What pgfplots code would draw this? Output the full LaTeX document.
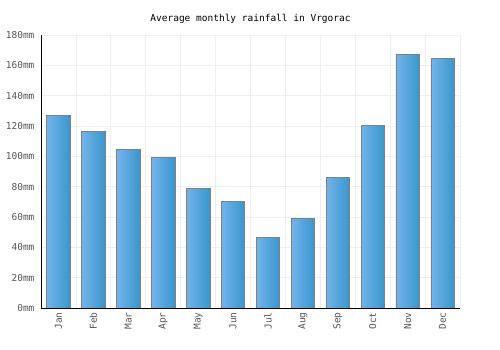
\documentclass[border=0pt]{standalone}
\usepackage{fontspec}
\setmainfont{DejaVu Sans Mono}
\usepackage{pgfplots}
\pgfplotsset{compat=1.18}
\definecolor{barL}{HTML}{72B4EA}
\definecolor{barR}{HTML}{3996CD}
\definecolor{gridc}{HTML}{EEEEEE}
\definecolor{tickc}{HTML}{555555}
\begin{document}
\begin{tikzpicture}
\begin{axis}[
  scale only axis, width=419pt, height=273pt,
  at={(0,0)}, anchor=south west,
  xmin=-0.5, xmax=11.5, ymin=0, ymax=180,
  axis lines*=left,
  axis line style={black, line width=0.9pt},
  xtick={0,...,11},
  xticklabels={Jan,Feb,Mar,Apr,May,Jun,Jul,Aug,Sep,Oct,Nov,Dec},
  x tick label style={rotate=90, anchor=east, font=\fontsize{9.5}{10}\selectfont, text=tickc, xshift=-1pt},
  minor xtick={-0.5,0.5,...,11.5},
  xminorgrids, ymajorgrids,
  grid style={gridc, line width=0.8pt},
  minor grid style={gridc, line width=0.8pt},
  ytick={0,20,...,180},
  yticklabel={\pgfmathprintnumber{\tick}mm},
  y tick label style={font=\fontsize{9.5}{10}\selectfont, text=tickc, xshift=-3pt},
  /pgf/number format/assume math mode=true,
  major tick length=0pt, minor tick length=0pt,
  title={Average monthly rainfall in Vrgorac},
  title style={font=\fontsize{9.5}{10}\selectfont, yshift=2pt},
  mybar/.style={ybar, bar width=0.67, bar shift=0pt, draw=gray, line width=0.6pt, left color=barL, right color=barR, mark=none},
]
\addplot[mybar] coordinates {(0,127)};
\addplot[mybar] coordinates {(1,116.4)};
\addplot[mybar] coordinates {(2,104.6)};
\addplot[mybar] coordinates {(3,99.3)};
\addplot[mybar] coordinates {(4,78.7)};
\addplot[mybar] coordinates {(5,70.4)};
\addplot[mybar] coordinates {(6,46.7)};
\addplot[mybar] coordinates {(7,59.2)};
\addplot[mybar] coordinates {(8,86.2)};
\addplot[mybar] coordinates {(9,120.4)};
\addplot[mybar] coordinates {(10,167.1)};
\addplot[mybar] coordinates {(11,164.4)};
\end{axis}
\pgfresetboundingbox
\path[use as bounding box] (-41pt,-42pt) rectangle (459pt,308pt);
\end{tikzpicture}
\end{document}
